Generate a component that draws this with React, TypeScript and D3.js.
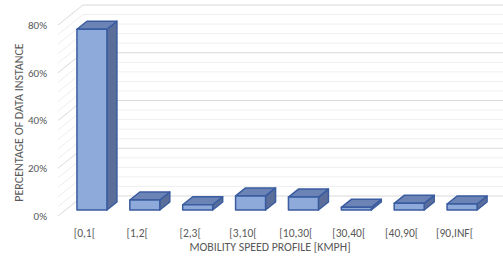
import React from 'react';
import * as d3 from 'd3';

const categories = ['[0,1[', '[1,2[', '[2,3[', '[3,10[', '[10,30[', '[30,40[', '[40,90[', '[90,INF['];
const percentages = [75.7, 4.2, 2.2, 5.9, 5.4, 1.1, 2.8, 2.5];
const tickValues = [0, 20, 40, 60, 80];
const minorValues = d3.range(0, 81, 4);

const W = 503;
const H = 257;
const FONT = "Carlito, 'Liberation Sans Narrow', 'Open Sans', sans-serif";
const TEXT = '#595959';

// 3d depth of the whole floor (front -> back)
const DX = 25;
const DY = -20;

const App = () => {
  const x = d3.scaleBand<string>()
    .domain(categories)
    .range([58, 481])
    .paddingInner(0.433)
    .paddingOuter(0.2165);

  const y = d3.scaleLinear().domain([0, 80]).range([216, 25]);

  // bar sits between 30% and 70% of the floor depth
  const f0 = 0.3;
  const f1 = 0.7;

  const bars = categories.map((c, i) => {
    const bx = (x(c) as number) + DX * f0;
    const bw = x.bandwidth();
    const top = y(percentages[i]) + DY * f0;
    const bottom = y(0) + DY * f0;
    const ddx = DX * (f1 - f0);
    const ddy = DY * (f1 - f0);
    const front = `M${bx},${top}L${bx + bw},${top}L${bx + bw},${bottom}L${bx},${bottom}Z`;
    const topFace = `M${bx},${top}L${bx + ddx},${top + ddy}L${bx + bw + ddx},${top + ddy}L${bx + bw},${top}Z`;
    const side = `M${bx + bw},${top}L${bx + bw + ddx},${top + ddy}L${bx + bw + ddx},${bottom + ddy}L${bx + bw},${bottom}Z`;
    return { c, front, topFace, side };
  });

  const left = 58;
  const right = 481;

  return (
    <svg width={W} height={H} style={{ position: 'absolute', left: 0, top: 0, background: '#fff' }}>
      {/* back wall and side wall grid */}
      {minorValues.map((v) => {
        const major = v % 20 === 0;
        const stroke = major ? '#d9d9d9' : '#eeeeee';
        return (
          <g key={v}>
            <line x1={left + DX} x2={right + DX + 10} y1={y(v) + DY} y2={y(v) + DY} stroke={stroke} strokeWidth={1} />
            <line x1={left} x2={left + DX} y1={y(v)} y2={y(v) + DY} stroke={stroke} strokeWidth={1} />
          </g>
        );
      })}

      {bars.map((b) => (
        <g key={b.c} stroke="#3a5ca0" strokeWidth={1.5} strokeLinejoin="round">
          <path d={b.side} fill="#5b6e99" />
          <path d={b.topFace} fill="#6b83b5" />
          <path d={b.front} fill="#8eaadb" />
        </g>
      ))}

      {tickValues.map((v) => (
        <text key={v} x={47} y={y(v)} dy="0.35em" textAnchor="end" fontFamily={FONT} fontSize={11} fill={TEXT}>
          {v}%
        </text>
      ))}

      {categories.map((c) => (
        <text key={c} x={(x(c) as number) + x.bandwidth() / 2} y={237} textAnchor="middle" fontFamily={FONT} fontSize={11.5} fill={TEXT}>
          {c}
        </text>
      ))}

      <text x={270} y={250.5} textAnchor="middle" fontFamily={FONT} fontSize={11.8} fill={TEXT}>
        MOBILITY SPEED PROFILE [KMPH]
      </text>
      <text transform="translate(23,122.5) rotate(-90)" textAnchor="middle" fontFamily={FONT} fontSize={12} fill={TEXT}>
        PERCENTAGE OF DATA INSTANCE
      </text>
    </svg>
  );
};

export default App;
